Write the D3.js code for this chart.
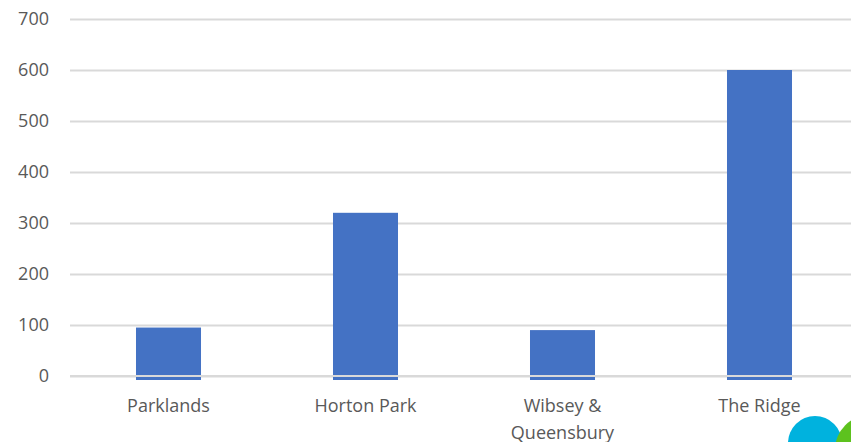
<!DOCTYPE html>
<html>
<head>
<meta charset="utf-8">
<script src="https://cdn.jsdelivr.net/npm/d3@7"></script>
<style>
  html, body { margin: 0; padding: 0; background: #fff; }
  svg { display: block; }
  text { font-family: "Open Sans", Lato, sans-serif; fill: #595959; }
</style>
</head>
<body>
<svg id="chart" width="851" height="442"></svg>
<script>
const categories = ["Parklands", "Horton Park", "Wibsey & Queensbury", "The Ridge"];
const values = [95, 320, 90, 600];
const yTicks = [0, 100, 200, 300, 400, 500, 600, 700];

const W = 851, H = 442;
const m = { left: 70, right: -7, top: 19, bottom: 66 };
const FONT = '"Open Sans", Lato, sans-serif';
const svg = d3.select("#chart");

const x = d3.scaleBand().domain(categories).range([m.left, W - m.right]).paddingInner(0.67).paddingOuter(0.335);
const y = d3.scaleLinear().domain([0, 700]).range([H - m.bottom, m.top]);

// gridlines + y labels (behind bars)
const yAxis = d3.axisLeft(y).tickValues(yTicks).tickSize(-(W - m.left)).tickPadding(21);
const gy = svg.append("g").attr("transform", `translate(${m.left},0)`).call(yAxis);
gy.select(".domain").remove();
gy.selectAll(".tick line").attr("stroke", "#d9d9d9").attr("stroke-width", 2);
gy.selectAll(".tick text").attr("font-size", 18).attr("fill", "#595959").style("font-family", FONT);

// bars (extend slightly below zero line)
svg.append("g").selectAll("rect").data(values).join("rect")
  .attr("x", (d, i) => x(categories[i]))
  .attr("width", x.bandwidth())
  .attr("y", d => y(d))
  .attr("height", d => y(0) - y(d) + 4)
  .attr("fill", "#4472C4");

// zero line over bars
svg.append("line")
  .attr("x1", m.left).attr("x2", W)
  .attr("y1", y(0)).attr("y2", y(0))
  .attr("stroke", "#d9d9d9").attr("stroke-width", 2);

// x labels
const xAxis = d3.axisBottom(x).tickSize(0).tickPadding(0);
const gx = svg.append("g").attr("transform", `translate(0,${y(0)})`).call(xAxis);
gx.select(".domain").remove();
gx.selectAll(".tick text").attr("font-size", 18).attr("fill", "#595959")
  .attr("dy", null)
  .style("font-family", FONT)
  .each(function(d) {
    const t = d3.select(this);
    t.text(null);
    const lines = d === "Wibsey & Queensbury" ? ["Wibsey &", "Queensbury"] : [d];
    lines.forEach((ln, k) => {
      t.append("tspan").attr("x", 0).attr("y", 36 + k * 27).text(ln);
    });
  });

// decorative blobs (logo fragment in the corner)
svg.append("circle").attr("cx", 815).attr("cy", 443).attr("r", 27).attr("fill", "#00B2DE");
svg.append("circle").attr("cx", 870).attr("cy", 450).attr("r", 35).attr("fill", "#5DC21E");
</script>
</body>
</html>
